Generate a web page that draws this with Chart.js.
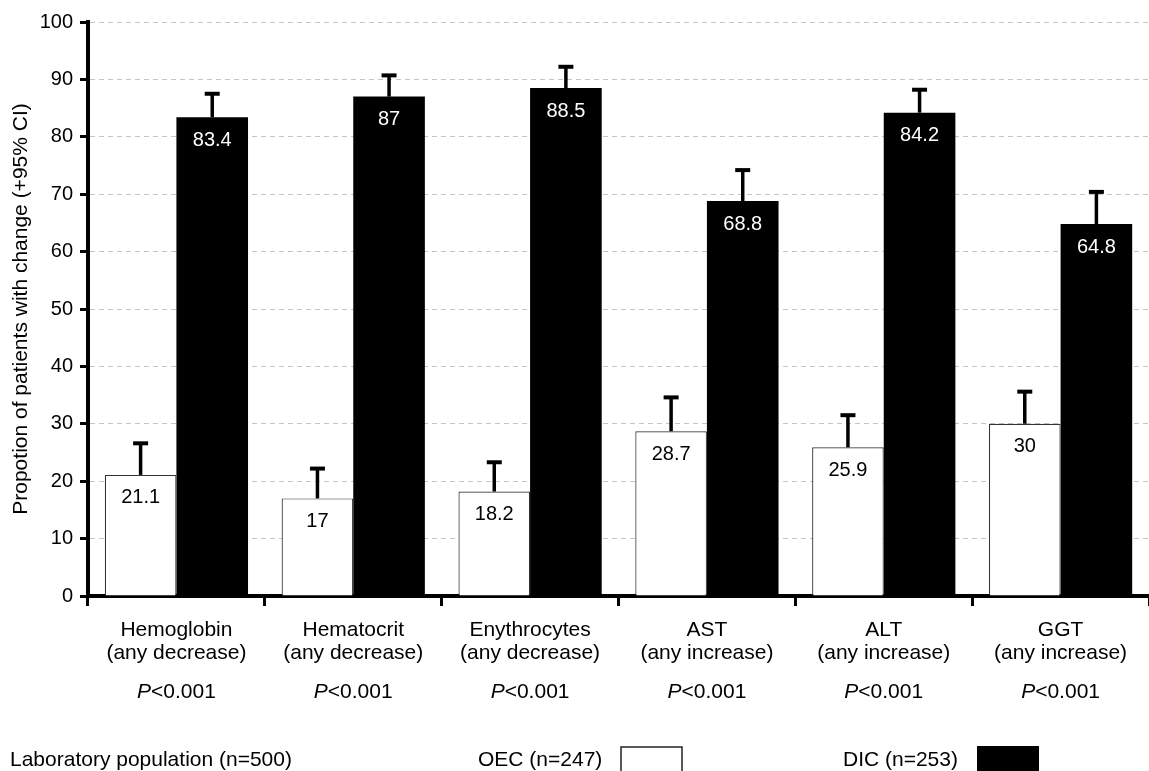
<!DOCTYPE html>
<html>
<head>
<meta charset="utf-8">
<title>Laboratory changes OEC vs DIC</title>
<script src="https://cdn.jsdelivr.net/npm/chart.js@4.4.1/dist/chart.umd.min.js"></script>
<style>
  html, body { margin: 0; padding: 0; background: #fff; }
  #wrap { width: 1149px; height: 771px; position: relative; }
</style>
</head>
<body>
<div id="wrap"><canvas id="barChart"></canvas></div>

<script>
// data
var categories = [
  ["Hemoglobin", "(any decrease)"],
  ["Hematocrit", "(any decrease)"],
  ["Enythrocytes", "(any decrease)"],
  ["AST", "(any increase)"],
  ["ALT", "(any increase)"],
  ["GGT", "(any increase)"]
];
var pValues = ["<0.001", "<0.001", "<0.001", "<0.001", "<0.001", "<0.001"];

var oecValues = [21.1, 17, 18.2, 28.7, 25.9, 30];
var oecUpperCI = [26.6, 22.2, 23.3, 34.6, 31.5, 35.6];

var dicValues = [83.4, 87, 88.5, 68.8, 84.2, 64.8];
var dicUpperCI = [87.5, 90.7, 92.2, 74.2, 88.2, 70.4];

var seriesNames = ["OEC (n=247)", "DIC (n=253)"];
var populationLabel = "Laboratory population (n=500)";
var yTitle = "Propotion of patients with change (+95% CI)";

var FONT = "'Liberation Sans', Arial, sans-serif";
var upperCI = [oecUpperCI, dicUpperCI];

// error bars (upper only) + value labels inside the bars
var barExtras = {
  id: 'barExtras',
  afterDatasetsDraw: function(chart) {
    var ctx = chart.ctx;
    var yScale = chart.scales.y;
    ctx.save();
    chart.data.datasets.forEach(function(ds, di) {
      var meta = chart.getDatasetMeta(di);
      meta.data.forEach(function(bar, i) {
        var yTop = yScale.getPixelForValue(upperCI[di][i]);
        ctx.strokeStyle = '#000';
        ctx.lineWidth = 3.5;
        ctx.beginPath();
        ctx.moveTo(bar.x, bar.y);
        ctx.lineTo(bar.x, yTop);
        ctx.stroke();
        ctx.lineWidth = 4;
        ctx.beginPath();
        ctx.moveTo(bar.x - 7.5, yTop);
        ctx.lineTo(bar.x + 7.5, yTop);
        ctx.stroke();

        ctx.font = '20px ' + FONT;
        ctx.textAlign = 'center';
        ctx.textBaseline = 'middle';
        ctx.fillStyle = di === 0 ? '#000' : '#fff';
        ctx.fillText(String(ds.data[i]), bar.x, bar.y + 23);
      });
    });
    ctx.restore();
  }
};

// P values under the category labels and the legend row at the bottom
var bottomText = {
  id: 'bottomText',
  afterDraw: function(chart) {
    var ctx = chart.ctx;
    var xScale = chart.scales.x;
    ctx.save();
    ctx.fillStyle = '#000';
    ctx.textBaseline = 'middle';
    ctx.textAlign = 'left';
    categories.forEach(function(c, i) {
      var cx = xScale.getPixelForValue(i);
      ctx.font = 'italic 21px ' + FONT;
      var wP = ctx.measureText('P').width;
      ctx.font = '21px ' + FONT;
      var wRest = ctx.measureText(pValues[i]).width;
      var x0 = cx - (wP + wRest) / 2;
      ctx.font = 'italic 21px ' + FONT;
      ctx.fillText('P', x0, 692);
      ctx.font = '21px ' + FONT;
      ctx.fillText(pValues[i], x0 + wP, 692);
    });

    // legend
    ctx.font = '21px ' + FONT;
    ctx.textBaseline = 'alphabetic';
    ctx.fillText(populationLabel, 10, 766);
    ctx.fillText(seriesNames[0], 478, 766);
    ctx.fillText(seriesNames[1], 843, 766);

    ctx.fillStyle = '#fff';
    ctx.fillRect(621, 747, 61, 30);
    ctx.strokeStyle = '#222';
    ctx.lineWidth = 1.5;
    ctx.strokeRect(621, 747, 61, 30);
    ctx.fillStyle = '#000';
    ctx.fillRect(977, 746, 62, 30);
    ctx.restore();
  }
};

var ctx = document.getElementById('barChart').getContext('2d');
var myBarChart = new Chart(ctx, {
  type: 'bar',
  data: {
    labels: categories,
    datasets: [
      {
        label: seriesNames[0],
        data: oecValues,
        backgroundColor: '#ffffff',
        borderColor: '#333333',
        borderWidth: 1.2,
        categoryPercentage: 0.81,
        barPercentage: 1.0
      },
      {
        label: seriesNames[1],
        data: dicValues,
        backgroundColor: '#000000',
        borderColor: '#000000',
        borderWidth: 0,
        categoryPercentage: 0.81,
        barPercentage: 1.0
      }
    ]
  },
  options: {
    responsive: true,
    maintainAspectRatio: false,
    animation: false,
    layout: { padding: { top: 22, right: 0, bottom: 0, left: 0 } },
    plugins: {
      legend: { display: false },
      tooltip: { enabled: false }
    },
    scales: {
      x: {
        afterFit: function(scale) { scale.height = 175; },
        grid: {
          offset: true,
          drawOnChartArea: false,
          drawTicks: true,
          tickLength: 10,
          tickColor: '#000',
          tickWidth: 3
        },
        border: { display: true, color: '#000', width: 4 },
        ticks: {
          color: '#000',
          font: { family: FONT, size: 21, lineHeight: 1.1 },
          padding: 13,
          maxRotation: 0,
          autoSkip: false
        }
      },
      y: {
        min: 0,
        max: 100,
        afterFit: function(scale) { scale.width = 88; },
        grid: {
          color: '#c4c4c4',
          lineWidth: 1,
          tickBorderDash: [],
          drawTicks: true,
          tickLength: 8,
          tickColor: '#000',
          tickWidth: 3
        },
        border: { display: true, color: '#000', width: 4, dash: [5, 4] },
        ticks: {
          stepSize: 10,
          color: '#000',
          font: { family: FONT, size: 20 },
          padding: 7
        },
        title: {
          display: true,
          text: yTitle,
          color: '#000',
          font: { family: FONT, size: 21 },
          padding: { top: 9, bottom: 0 }
        }
      }
    }
  },
  plugins: [barExtras, bottomText]
});
</script>
</body>
</html>
